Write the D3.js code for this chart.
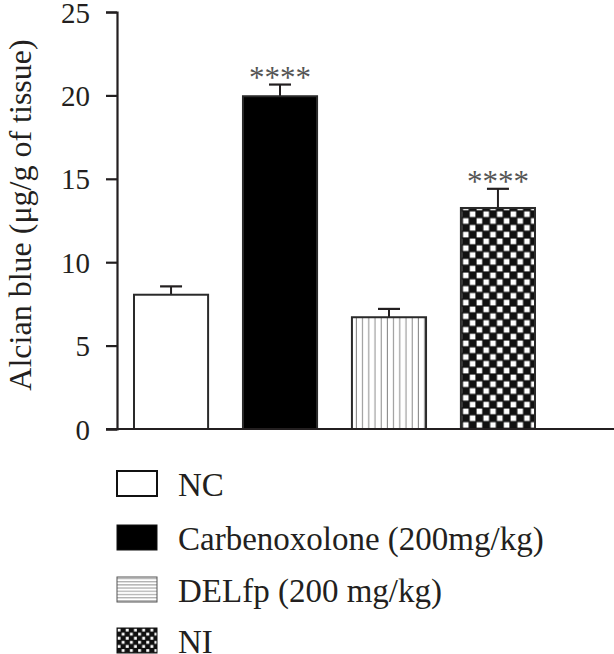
<!DOCTYPE html>
<html>
<head>
<meta charset="utf-8">
<script src="https://cdn.jsdelivr.net/npm/d3@7"></script>
<style>
  body { margin: 0; background: #fff; }
  svg text { font-family: "Liberation Serif", "DejaVu Serif", serif; fill: #231f20; }
</style>
</head>
<body>
<svg id="chart" width="614" height="654"></svg>
<script>
// values
const groups = ["NC", "Carbenoxolone (200mg/kg)", "DELfp (200 mg/kg)", "NI"];
const means = [8.05, 19.95, 6.7, 13.25];
const sems = [0.5, 0.7, 0.5, 1.15];
const marks = ["", "****", "", "****"];
const yTicks = [0, 5, 10, 15, 20, 25];
const fills = ["white", "black", "url(#vlines)", "url(#checker)"];
const legendFills = ["white", "black", "url(#hlines)", "url(#checkerSmall)"];

const svg = d3.select("#chart");
const ink = "#231f20";

// patterns
const defs = svg.append("defs");
const vl = defs.append("pattern").attr("id", "vlines")
  .attr("patternUnits", "userSpaceOnUse").attr("width", 6.2).attr("height", 10);
vl.append("rect").attr("width", 6.2).attr("height", 10).attr("fill", "white");
vl.append("line").attr("x1", 3).attr("x2", 3).attr("y1", 0).attr("y2", 10)
  .attr("stroke", "#8a8a8a").attr("stroke-width", 1);

const hl = defs.append("pattern").attr("id", "hlines")
  .attr("patternUnits", "userSpaceOnUse").attr("width", 10).attr("height", 3.2);
hl.append("rect").attr("width", 10).attr("height", 3.2).attr("fill", "white");
hl.append("line").attr("x1", 0).attr("x2", 10).attr("y1", 1.5).attr("y2", 1.5)
  .attr("stroke", "#8a8a8a").attr("stroke-width", 0.9);

function checker(id, s) {
  const p = defs.append("pattern").attr("id", id)
    .attr("patternUnits", "userSpaceOnUse").attr("width", 2 * s).attr("height", 2 * s);
  p.append("rect").attr("width", 2 * s).attr("height", 2 * s).attr("fill", "#111");
  p.append("rect").attr("x", 0.6).attr("y", 0.6).attr("width", s - 1.2).attr("height", s - 1.2).attr("fill", "white");
  p.append("rect").attr("x", s + 0.6).attr("y", s + 0.6).attr("width", s - 1.2).attr("height", s - 1.2).attr("fill", "white");
}
checker("checker", 6.8);
checker("checkerSmall", 4.1);

// scales
const y = d3.scaleLinear().domain([0, 25]).range([429, 12]);
const x = d3.scaleBand().domain(groups).range([117, 552])
  .paddingInner(0.32).paddingOuter(0.156);

// bars
const bars = svg.append("g").selectAll("g").data(groups).enter().append("g");

bars.append("line")
  .attr("x1", d => x(d) + x.bandwidth() / 2)
  .attr("x2", d => x(d) + x.bandwidth() / 2)
  .attr("y1", (d, i) => y(means[i]))
  .attr("y2", (d, i) => y(means[i] + sems[i]))
  .attr("stroke", ink).attr("stroke-width", 2);
bars.append("line")
  .attr("x1", d => x(d) + x.bandwidth() / 2 - 11)
  .attr("x2", d => x(d) + x.bandwidth() / 2 + 11)
  .attr("y1", (d, i) => y(means[i] + sems[i]))
  .attr("y2", (d, i) => y(means[i] + sems[i]))
  .attr("stroke", ink).attr("stroke-width", 2.2);

bars.append("rect")
  .attr("x", d => x(d))
  .attr("width", x.bandwidth())
  .attr("y", (d, i) => y(means[i]))
  .attr("height", (d, i) => y(0) - y(means[i]))
  .attr("fill", (d, i) => fills[i])
  .attr("stroke", "#2a2a2a").attr("stroke-width", 2);

bars.append("text")
  .attr("x", d => x(d) + x.bandwidth() / 2)
  .attr("y", (d, i) => y(means[i] + sems[i]) + 3)
  .attr("text-anchor", "middle")
  .attr("font-size", 31)
  .style("fill", "#555")
  .text((d, i) => marks[i]);

// axes
const yAxis = svg.append("g").attr("transform", "translate(117,0)")
  .call(d3.axisLeft(y).tickValues(yTicks).tickSize(11).tickPadding(16));
yAxis.select(".domain").attr("stroke", ink).attr("stroke-width", 2.2);
yAxis.selectAll(".tick line").attr("stroke", ink).attr("stroke-width", 2.2);
yAxis.selectAll(".tick text").attr("font-size", 29).attr("font-family", null).attr("dy", "0.35em");

svg.append("line")
  .attr("x1", 106).attr("x2", 614).attr("y1", y(0)).attr("y2", y(0))
  .attr("stroke", ink).attr("stroke-width", 2.2);

svg.append("text")
  .attr("transform", "translate(31,215) rotate(-90)")
  .attr("text-anchor", "middle")
  .attr("font-size", 32)
  .text("Alcian blue (μg/g of tissue)");

// legend
const rowY = [471, 525, 577, 628];
const leg = svg.append("g").selectAll("g").data(groups).enter().append("g")
  .attr("transform", (d, i) => "translate(117," + rowY[i] + ")");
leg.append("rect")
  .attr("x", 0).attr("y", 0).attr("width", 40).attr("height", 25)
  .attr("fill", (d, i) => legendFills[i])
  .attr("stroke", (d, i) => i === 2 ? "#555" : "#111")
  .attr("stroke-width", (d, i) => i === 0 ? 2 : 1);
leg.append("text")
  .attr("x", 61).attr("y", 25)
  .attr("font-size", 33)
  .text(d => d);
</script>
</body>
</html>
